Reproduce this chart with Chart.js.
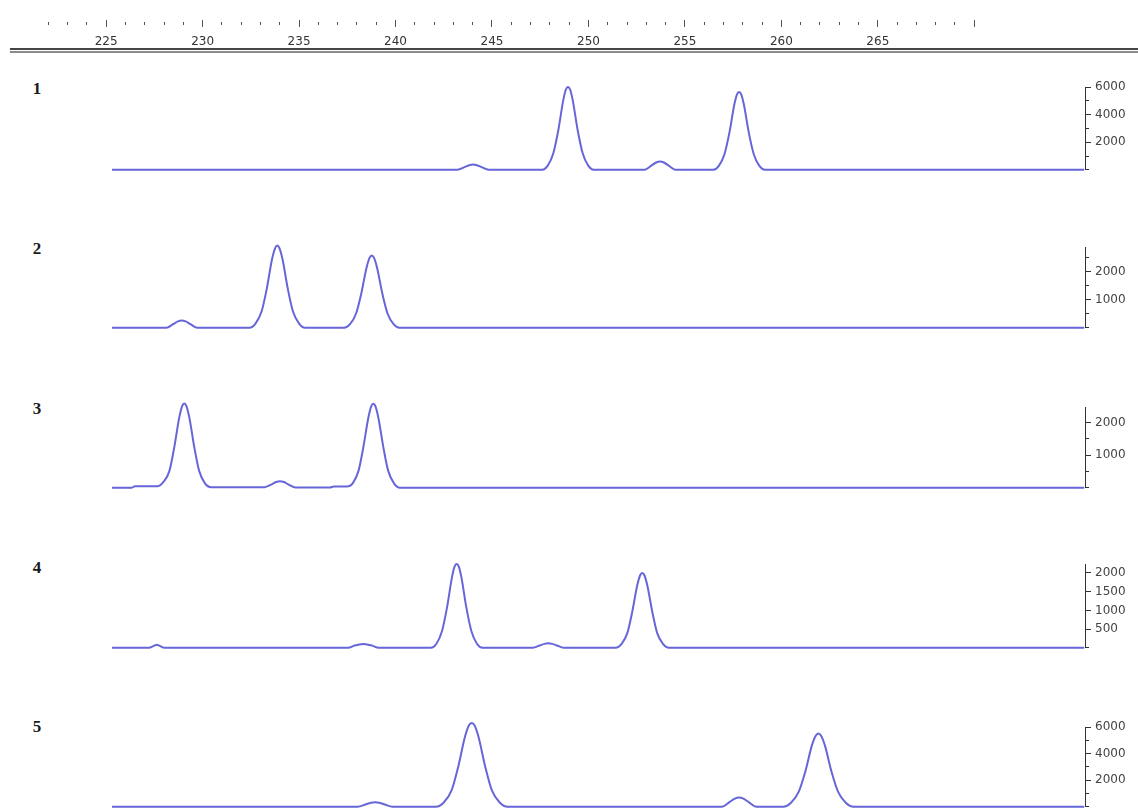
<!DOCTYPE html>
<html><head><meta charset="utf-8">
<script src="https://cdn.jsdelivr.net/npm/chart.js@4.4.1/dist/chart.umd.min.js"></script>
<style>
html,body{margin:0;padding:0;background:#fff;overflow:hidden;}
#wrap{position:relative;width:1138px;height:812px;overflow:hidden;background:#fff;}
#wrap canvas{position:absolute;left:0;}
.lane{position:absolute;left:28px;width:18px;height:20px;line-height:20px;text-align:center;font:bold 17px "Liberation Serif",serif;color:#1a1a1a;}
.rule{position:absolute;left:10px;top:48px;width:1128px;height:1px;border-top:2px solid #454545;border-bottom:2px solid #8a8a8a;}
</style></head><body><div id="wrap"><div class="rule"></div></div>
<script>
// ---- data ----
const sizeMin = 221, sizeMax = 275.74;
const sizeTickLabels = [225, 230, 235, 240, 245, 250, 255, 260, 265];
const laneNames = ['1', '2', '3', '4', '5'];
const laneMax = [6000, 2880, 2480, 2240, 6000];
const laneTicks = [
  [0, 1000, 2000, 3000, 4000, 5000, 6000],
  [0, 500, 1000, 1500, 2000, 2500],
  [0, 500, 1000, 1500, 2000],
  [0, 500, 1000, 1500, 2000],
  [0, 1000, 2000, 3000, 4000, 5000, 6000]
];
const laneTickLabels = [
  [2000, 4000, 6000],
  [1000, 2000],
  [1000, 2000],
  [500, 1000, 1500, 2000],
  [2000, 4000, 6000]
];

const lane1X = [225.3, 243.22, 243.57, 243.82, 244.02, 244.22, 244.47, 244.82, 247.60, 247.89, 248.18, 248.44, 248.69, 248.83, 248.94, 249.05, 249.19, 249.44, 249.70, 249.99, 250.28, 252.91, 253.26, 253.51, 253.71, 253.91, 254.16, 254.51, 256.47, 256.76, 257.05, 257.31, 257.56, 257.70, 257.81, 257.92, 258.06, 258.31, 258.57, 258.86, 259.15, 275.7];
const lane1Y = [0, 0, 190, 335, 380, 335, 190, 0, 0, 300, 1200, 2880, 5010, 5820, 6000, 5820, 5010, 2880, 1200, 300, 0, 0, 300, 530, 600, 530, 300, 0, 0, 280, 1130, 2710, 4710, 5470, 5640, 5470, 4710, 2710, 1130, 280, 0, 0];

const lane2X = [225.3, 228.12, 228.47, 228.72, 228.92, 229.12, 229.37, 229.72, 232.43, 232.74, 233.06, 233.33, 233.60, 233.76, 233.87, 233.98, 234.14, 234.41, 234.68, 235.00, 235.31, 237.33, 237.64, 237.96, 238.23, 238.50, 238.66, 238.77, 238.88, 239.04, 239.31, 239.58, 239.90, 240.21, 275.7];
const lane2Y = [0, 0, 130, 230, 260, 230, 130, 0, 0, 150, 590, 1410, 2450, 2840, 2930, 2840, 2450, 1410, 590, 150, 0, 0, 130, 520, 1240, 2150, 2500, 2580, 2500, 2150, 1240, 520, 130, 0, 0];

const lane3X = [225.3, 226.3, 226.5, 227.67, 227.97, 228.28, 228.53, 228.79, 228.94, 229.05, 229.16, 229.31, 229.57, 229.82, 230.13, 230.43, 233.21, 233.56, 233.81, 234.01, 234.21, 234.46, 234.81, 236.6, 236.8, 237.47, 237.77, 238.08, 238.33, 238.59, 238.74, 238.85, 238.96, 239.11, 239.37, 239.62, 239.93, 240.23, 275.7];
const lane3Y = [0, 0, 50, 50, 180, 520, 1240, 2160, 2510, 2590, 2510, 2160, 1240, 520, 130, 20, 20, 100, 176, 200, 176, 100, 10, 10, 40, 40, 130, 520, 1240, 2150, 2500, 2580, 2500, 2150, 1240, 520, 130, 0, 0];

const lane4X = [225.3, 227.22, 227.47, 227.62, 227.77, 228.02, 237.53, 237.88, 238.13, 238.33, 238.53, 238.78, 239.13, 241.83, 242.12, 242.41, 242.67, 242.92, 243.06, 243.17, 243.28, 243.42, 243.67, 243.93, 244.22, 244.51, 247.12, 247.47, 247.72, 247.92, 248.12, 248.37, 248.72, 251.41, 251.71, 252.02, 252.27, 252.53, 252.68, 252.79, 252.90, 253.05, 253.31, 253.56, 253.87, 254.17, 275.7];
const lane4Y = [0, 0, 50, 80, 50, 0, 0, 60, 90, 100, 90, 60, 0, 0, 110, 450, 1080, 1870, 2170, 2240, 2170, 1870, 1080, 450, 110, 0, 0, 60, 105, 120, 105, 60, 0, 0, 100, 400, 960, 1670, 1940, 2000, 1940, 1670, 960, 400, 100, 0, 0];

const lane5X = [225.3, 238.04, 238.44, 238.72, 238.94, 239.16, 239.44, 239.84, 242.09, 242.50, 242.91, 243.25, 243.60, 243.80, 243.95, 244.10, 244.30, 244.65, 244.99, 245.40, 245.81, 256.91, 257.31, 257.59, 257.81, 258.03, 258.31, 258.71, 260.10, 260.49, 260.89, 261.24, 261.58, 261.78, 261.92, 262.06, 262.26, 262.60, 262.95, 263.35, 263.74, 275.7];
const lane5Y = [0, 0, 175, 310, 350, 310, 175, 0, 0, 320, 1260, 3020, 5260, 6110, 6300, 6110, 5260, 3020, 1260, 320, 0, 0, 350, 620, 700, 620, 350, 0, 0, 280, 1100, 2640, 4600, 5340, 5510, 5340, 4600, 2640, 1100, 280, 0, 0];

const laneXs = [lane1X, lane2X, lane3X, lane4X, lane5X];
const laneYs = [lane1Y, lane2Y, lane3Y, lane4Y, lane5Y];

// ---- layout (pixels) ----
const PLOT_LEFT = 29, AXIS_W = 53;
const laneBasePx = [171, 329, 489, 649, 808];
const laneTopPx = [87, 247, 407, 564, 727];
const laneLabelY = [89, 249, 409, 568, 727];
const TRACE = '#6666d8';
const AXIS = '#333';

const wrap = document.getElementById('wrap');
function mkCanvas(top, h) {
  const c = document.createElement('canvas');
  c.width = 1138; c.height = h;
  c.style.top = top + 'px'; c.style.width = '1138px'; c.style.height = h + 'px';
  wrap.appendChild(c);
  return c;
}

// top size ruler
new Chart(mkCanvas(0, 48), {
  type: 'line',
  data: { datasets: [] },
  options: {
    responsive: false, animation: false, events: [],
    layout: { padding: { left: PLOT_LEFT, right: AXIS_W, top: 0, bottom: 0 } },
    plugins: { legend: { display: false }, tooltip: { enabled: false } },
    scales: {
      x: {
        type: 'linear', position: 'bottom', min: sizeMin, max: sizeMax,
        afterFit(s) { s.height = 28; },
        border: { display: false },
        grid: {
          drawOnChartArea: false, drawTicks: true, tickLength: 7, tickWidth: 1,
          tickColor: (ctx) => (ctx.tick && ctx.tick.value >= 222 && ctx.tick.value <= 270) ? '#555' : 'rgba(0,0,0,0)',
          tickBorderDash: (ctx) => (ctx.tick && ctx.tick.value % 5 === 0) ? [] : [0, 2, 3, 30]
        },
        ticks: {
          stepSize: 1, autoSkip: false, includeBounds: false, maxTicksLimit: 200, maxRotation: 0,
          padding: 8, color: '#333', font: { family: 'DejaVu Sans', size: 12 },
          callback: (v) => sizeTickLabels.includes(v) ? String(v) : ''
        }
      },
      y: { display: false, min: 0, max: 1 }
    }
  }
});

// lanes
laneNames.forEach((name, i) => {
  const lab = document.createElement('div');
  lab.className = 'lane';
  lab.textContent = name;
  lab.style.top = (laneLabelY[i] - 10) + 'px';
  wrap.appendChild(lab);

  const padTop = 20, padBot = 10;
  const h = (laneBasePx[i] - laneTopPx[i]) + padTop + padBot;
  const c = mkCanvas(laneTopPx[i] - padTop, h);
  const isLabeled = (v) => laneTickLabels[i].includes(v);
  new Chart(c, {
    type: 'line',
    data: {
      datasets: [{
        data: laneXs[i].map((x, j) => ({ x: x, y: laneYs[i][j] })),
        borderColor: TRACE, borderWidth: 2, pointRadius: 0, fill: false,
        cubicInterpolationMode: 'monotone', clip: false
      }]
    },
    options: {
      responsive: false, animation: false, events: [],
      layout: { padding: { left: PLOT_LEFT, right: 0, top: padTop, bottom: padBot } },
      plugins: { legend: { display: false }, tooltip: { enabled: false } },
      scales: {
        x: { type: 'linear', display: false, min: sizeMin, max: sizeMax },
        y: {
          position: 'right', min: 0, max: laneMax[i],
          afterBuildTicks(s) { s.ticks = laneTicks[i].map(v => ({ value: v })); },
          afterFit(s) { s.width = AXIS_W; },
          border: { display: true, color: AXIS, width: 1 },
          grid: {
            drawOnChartArea: false, drawTicks: true, tickLength: 6, tickColor: AXIS,
            tickBorderDash: (ctx) => (ctx.tick && isLabeled(ctx.tick.value)) ? [] : [3, 20]
          },
          ticks: {
            autoSkip: false, padding: 4, color: '#444', font: { family: 'DejaVu Sans', size: 12 },
            callback: (v) => isLabeled(v) ? String(v) : ''
          }
        }
      }
    }
  });
});
</script></body></html>
